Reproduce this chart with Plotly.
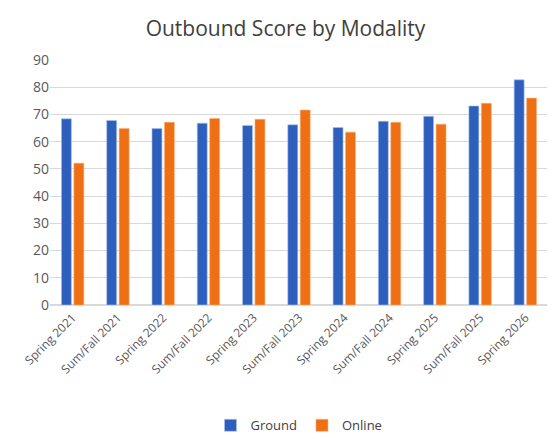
import plotly.graph_objects as go

terms = ['Spring 2021', 'Sum/Fall 2021', 'Spring 2022', 'Sum/Fall 2022', 'Spring 2023',
         'Sum/Fall 2023', 'Spring 2024', 'Sum/Fall 2024', 'Spring 2025', 'Sum/Fall 2025',
         'Spring 2026']
ground = [68.4, 67.8, 64.8, 66.8, 65.9, 66.2, 65.2, 67.5, 69.3, 73.1, 82.7]
online = [52.1, 64.8, 67.1, 68.5, 68.2, 71.6, 63.5, 67.1, 66.4, 74.1, 76.0]

fig = go.Figure()
fig.add_trace(go.Bar(name='Ground', x=terms, y=ground, marker_color='#2e5fbd',
                     marker_line=dict(color='#a9c4ee', width=0.6)))
fig.add_trace(go.Bar(name='Online', x=terms, y=online, marker_color='#ee6f14',
                     marker_line=dict(color='#f7b27a', width=0.6)))

fig.update_layout(
    width=555, height=444,
    barmode='group', bargap=0.45, bargroupgap=0.2,
    font=dict(family='Open Sans, sans-serif', color='#595959', size=13),
    title=dict(text='Outbound Score by Modality', x=0.5, xanchor='center', y=0.97,
               font=dict(size=21, color='#404040')),
    paper_bgcolor='white', plot_bgcolor='white',
    margin=dict(l=42, r=15, t=52, b=128),
    legend=dict(orientation='h', x=0.5, xanchor='center', y=-0.43, yanchor='top',
                font=dict(size=13, color='#404040')),
    yaxis=dict(range=[0, 90], dtick=10, gridcolor='#d9d9d9', showline=False,
               zeroline=True, zerolinecolor='#d9d9d9', tickfont=dict(size=14)),
    xaxis=dict(tickangle=-45, showline=True, linecolor='#d9d9d9', tickfont=dict(size=12)),
)

fig.write_html("out.html")
